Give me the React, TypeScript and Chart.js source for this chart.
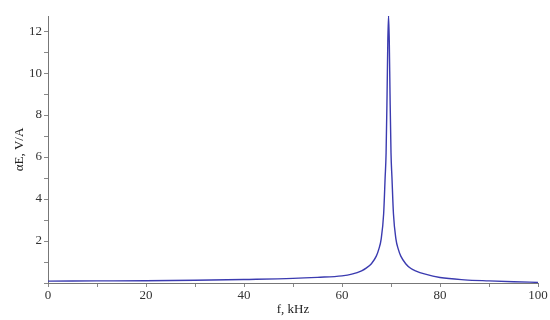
import React, { useEffect, useRef } from "react";
import { Chart, registerables } from "chart.js";

Chart.register(...registerables);

const freqKHz = [0, 10, 20, 30, 40, 50, 55, 60, 62, 64, 65, 66, 67, 67.5, 68, 68.5, 68.8, 69.0, 69.2, 69.35, 69.5, 69.65, 69.8, 70.0, 70.2, 70.5, 71, 71.5, 72, 73, 74, 75, 77, 80, 85, 90, 95, 100];
const alphaE = [0.09, 0.1, 0.11, 0.13, 0.17, 0.22, 0.27, 0.34, 0.42, 0.58, 0.72, 0.92, 1.28, 1.6, 2.1, 3.3, 5.0, 6.2, 9.0, 11.5, 12.75, 11.5, 9.0, 6.2, 5.0, 3.3, 2.1, 1.6, 1.28, 0.92, 0.7, 0.58, 0.42, 0.26, 0.15, 0.1, 0.06, 0.03];
const xTicks = [0, 10, 20, 30, 40, 50, 60, 70, 80, 90, 100];
const xLabelled = [0, 20, 40, 60, 80, 100];
const yTicks = [0, 1, 2, 3, 4, 5, 6, 7, 8, 9, 10, 11, 12];
const yLabelled = [2, 4, 6, 8, 10, 12];
const xTitle = "f, kHz";
const yTitle = "αE, V/A";

export default function App() {
  const ref = useRef<HTMLCanvasElement | null>(null);
  useEffect(() => {
    if (!ref.current) return;
    const font = { family: "'Liberation Serif', 'DejaVu Serif', serif", size: 13 };
    const chart = new Chart(ref.current, {
      type: "line",
      data: {
        datasets: [
          {
            data: freqKHz.map((f, i) => ({ x: f, y: alphaE[i] })),
            borderColor: "#3b3bb0",
            borderWidth: 1.4,
            pointRadius: 0,
            cubicInterpolationMode: "monotone",
            fill: false,
          },
        ],
      },
      options: {
        responsive: false,
        animation: false,
        layout: { padding: { left: 0, right: 12, top: 16, bottom: 3 } },
        plugins: { legend: { display: false }, tooltip: { enabled: false } },
        scales: {
          x: {
            type: "linear",
            min: 0,
            max: 100,
            afterBuildTicks: (s: any) => {
              s.ticks = xTicks.map((v) => ({ value: v }));
            },
            afterFit: (s: any) => {
              s.height = 34;
            },
            ticks: {
              autoSkip: false,
              maxRotation: 0,
              color: "#333",
              font,
              padding: 1,
              callback: (v: any) => (xLabelled.includes(Number(v)) ? String(v) : ""),
            },
            grid: { drawOnChartArea: false, drawTicks: true, tickLength: 4, color: "#888" },
            border: { color: "#777", width: 1 },
            title: { display: true, text: xTitle, color: "#222", font, padding: { top: 0, bottom: 0 } },
          },
          y: {
            type: "linear",
            min: 0,
            max: 12.72,
            afterBuildTicks: (s: any) => {
              s.ticks = yTicks.map((v) => ({ value: v }));
            },
            afterFit: (s: any) => {
              s.width = 48;
            },
            ticks: {
              autoSkip: false,
              color: "#333",
              font,
              padding: 2,
              callback: (v: any) => (yLabelled.includes(Number(v)) ? String(v) : ""),
            },
            grid: { drawOnChartArea: false, drawTicks: true, tickLength: 4, color: "#888" },
            border: { color: "#777", width: 1 },
            title: { display: true, text: yTitle, color: "#222", font, padding: { top: 12, bottom: 0 } },
          },
        },
      },
    } as any);
    return () => chart.destroy();
  }, []);
  return (
    <div style={{ position: "fixed", left: 0, top: 0, width: 550, height: 320, background: "#fff" }}>
      <canvas ref={ref} width={550} height={320} />
    </div>
  );
}
